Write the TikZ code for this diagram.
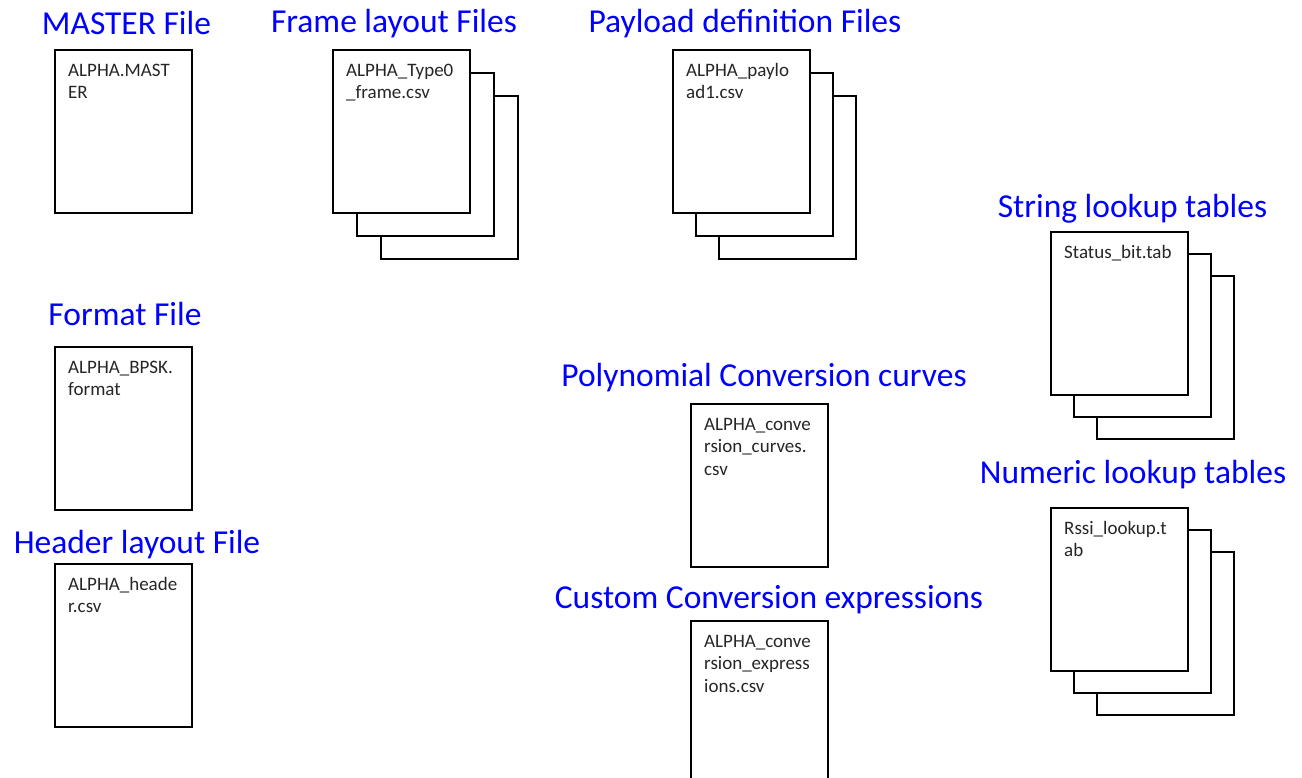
\documentclass[tikz,border=0pt]{standalone}
\usepackage{fontspec}
\setmainfont{Carlito}
\definecolor{titleblue}{RGB}{0,0,255}
\definecolor{inkgray}{RGB}{38,38,38}
\tikzset{
  x=1pt, y=-1pt,
  sheet/.style={draw=black, line width=1.8pt, fill=white, anchor=north west,
    minimum width=137pt, minimum height=163pt, inner sep=0pt},
  sheettext/.style={anchor=north west, align=left, inner sep=0pt, text=inkgray,
    font=\fontsize{19}{22.6}\selectfont},
  heading/.style={anchor=base, inner sep=0pt, text=titleblue,
    font=\fontsize{33.5}{38}\selectfont},
}
% label in the top-left corner of a sheet; the rule fixes the first line's height
\newcommand{\sheetlabel}[3]{% name of box, name of label, text
  \node[sheettext] (#2) at ([shift={(14,13)}]#1.north west) {\rule{0pt}{14pt}#3};}
\begin{document}
\begin{tikzpicture}
\useasboundingbox (0,0) rectangle (1302,778);
\clip (0,0) rectangle (1302,778);

% ---- headings ----
\node[heading] (hmaster)  at (126.5,35)  {MASTER File};
\node[heading] (hframe)   at (394,33)    {Frame layout Files};
\node[heading] (hpayload) at (745,33)    {Payload definition Files};
\node[heading] (hstring)  at (1132.5,218){String lookup tables};
\node[heading] (hnumeric) at (1133,483)  {Numeric lookup tables};
\node[heading] (hformat)  at (125,326)   {Format File};
\node[heading] (hheader)  at (137,553)   {Header layout File};
\node[heading] (hpoly)    at (764,386)   {Polynomial Conversion curves};
\node[heading] (hcustom)  at (769,608)   {Custom Conversion expressions};

% ---- single files ----
\node[sheet] (master) at (54,49) {};
\sheetlabel{master}{tmaster}{ALPHA.MAST\\ER}

\node[sheet] (format) at (54,346) {};
\sheetlabel{format}{tformat}{ALPHA\_BPSK.\\format}

\node[sheet] (header) at (54,563) {};
\sheetlabel{header}{theader}{ALPHA\_heade\\r.csv}

\node[sheet] (poly) at (690,403) {};
\sheetlabel{poly}{tpoly}{ALPHA\_conve\\rsion\_curves.\\csv}

\node[sheet] (custom) at (690,620) {};
\sheetlabel{custom}{tcustom}{ALPHA\_conve\\rsion\_express\\ions.csv}

% ---- stacked files (back sheets first) ----
\node[sheet] (frame3) at (380,95) {};
\node[sheet] (frame2) at (356,72) {};
\node[sheet] (frame1) at (332,49) {};
\sheetlabel{frame1}{tframe}{ALPHA\_Type0\\\_frame.csv}

\node[sheet] (pay3) at (718,95) {};
\node[sheet] (pay2) at (695,72) {};
\node[sheet] (pay1) at (672,49) {};
\sheetlabel{pay1}{tpay}{ALPHA\_paylo\\ad1.csv}

\node[sheet] (str3) at (1096,275) {};
\node[sheet] (str2) at (1073,253) {};
\node[sheet] (str1) at (1050,231) {};
\sheetlabel{str1}{tstr}{Status\_bit.tab}

\node[sheet] (num3) at (1096,551) {};
\node[sheet] (num2) at (1073,529) {};
\node[sheet] (num1) at (1050,507) {};
\sheetlabel{num1}{tnum}{Rssi\_lookup.t\\ab}
\end{tikzpicture}
\end{document}
